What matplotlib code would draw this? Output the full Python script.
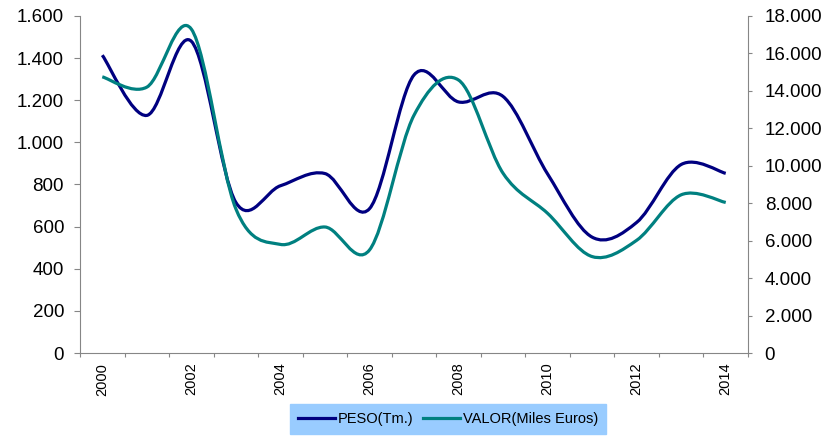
import matplotlib
matplotlib.use("Agg")
import matplotlib.pyplot as plt
from matplotlib.path import Path
from matplotlib.patches import PathPatch
from matplotlib.lines import Line2D
from matplotlib.ticker import FuncFormatter, FixedLocator

plt.rcParams['font.family'] = ['Liberation Sans', 'DejaVu Sans']

# Datos
years = list(range(2000, 2015))
peso = [1414, 1128, 1480, 715, 794, 852, 685, 1320, 1192, 1218, 850, 550, 620, 895, 853]
valor = [14750, 14200, 17300, 7700, 5800, 6730, 5500, 12700, 14580, 9600, 7460, 5150, 6020, 8450, 8040]

NAVY = '#000080'
TEAL = '#008080'
GRIS = '#868686'


def smooth_path(xs, ys):
    """Curva suavizada tipo Excel (Catmull-Rom a Bezier)."""
    n = len(xs)
    verts = [(xs[0], ys[0])]
    codes = [Path.MOVETO]
    for i in range(n - 1):
        x0, y0 = (xs[i - 1], ys[i - 1]) if i > 0 else (xs[i], ys[i])
        x1, y1 = xs[i], ys[i]
        x2, y2 = xs[i + 1], ys[i + 1]
        x3, y3 = (xs[i + 2], ys[i + 2]) if i + 2 < n else (x2, y2)
        c1 = (x1 + (x2 - x0) / 6, y1 + (y2 - y0) / 6)
        c2 = (x2 - (x3 - x1) / 6, y2 - (y3 - y1) / 6)
        verts += [c1, c2, (x2, y2)]
        codes += [Path.CURVE4] * 3
    return Path(verts, codes)


def miles(v, pos):
    return f"{int(v):,}".replace(",", ".")


fig = plt.figure(figsize=(8.27, 4.36), dpi=100)
ax = fig.add_axes([80 / 827, 83 / 436, 668 / 827, 337 / 436])
ax2 = ax.twinx()

xs = list(range(len(years)))
ax.add_patch(PathPatch(smooth_path(xs, peso), facecolor='none', edgecolor=NAVY,
                       lw=2.3, capstyle='butt', zorder=3))
ax2.add_patch(PathPatch(smooth_path(xs, valor), facecolor='none', edgecolor=TEAL,
                        lw=2.3, capstyle='butt', zorder=2))

ax.set_xlim(-0.5, len(years) - 0.5)
ax.set_ylim(0, 1600)
ax2.set_ylim(0, 18000)
ax.set_yticks(range(0, 1601, 200))
ax2.set_yticks(range(0, 18001, 2000))
ax.yaxis.set_major_formatter(FuncFormatter(miles))
ax2.yaxis.set_major_formatter(FuncFormatter(miles))

# eje de categorias: marcas entre categorias, etiquetas cada dos años
ax.xaxis.set_major_locator(FixedLocator([i - 0.5 for i in range(len(years) + 1)]))
ax.xaxis.set_major_formatter(FuncFormatter(lambda v, p: ''))
ax.xaxis.set_minor_locator(FixedLocator(xs[::2]))
ax.set_xticklabels([str(y) for y in years[::2]], minor=True, rotation=90, fontsize=10.5)
ax.tick_params(axis='x', which='minor', length=0, pad=7)
ax.tick_params(axis='x', which='major', length=3, color=GRIS, direction='out')

for a in (ax, ax2):
    for s in a.spines.values():
        s.set_color(GRIS)
    a.spines['top'].set_visible(False)
ax.spines['right'].set_visible(False)
ax2.spines['left'].set_visible(False)
ax2.spines['bottom'].set_visible(False)

ax.tick_params(axis='y', length=4.5, color=GRIS, labelsize=13.5, pad=7)
ax2.tick_params(axis='y', length=3, color=GRIS, labelsize=13.5, pad=9)

handles = [Line2D([], [], color=NAVY, lw=2.3), Line2D([], [], color=TEAL, lw=2.3)]
leg = fig.legend(handles, ['PESO(Tm.)', 'VALOR(Miles Euros)'], loc='center',
                 bbox_to_anchor=(448 / 827, 17 / 436), ncol=2, frameon=True,
                 fontsize=10.5, handlelength=2.5, handletextpad=0.2, columnspacing=0.7,
                 borderpad=0.55, fancybox=False)
leg.get_frame().set_facecolor('#99CCFF')
leg.get_frame().set_edgecolor('#99CCFF')
leg.get_frame().set_alpha(1)

fig.savefig('out.png', dpi=100)
